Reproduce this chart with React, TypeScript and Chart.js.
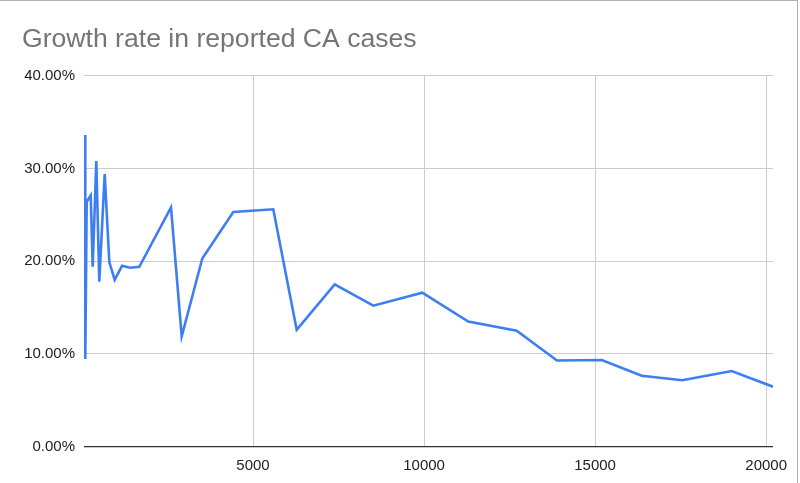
import React, { useEffect, useRef } from "react";
import { Chart, registerables } from "chart.js";

Chart.register(...registerables);

const TITLE = "Growth rate in reported CA cases";
const reportedCases = [
  95, 98, 139, 256, 314, 420, 507, 665, 800, 957, 1171, 1405, 1676, 2603, 2916,
  3518, 4424, 5593, 6277, 7388, 8516, 9948, 11293, 12708, 13886, 15193, 16362,
  17549, 18993, 20200,
];
const growthRate = [
  33.6, 9.46, 26.4, 27.1, 19.4, 30.8, 17.8, 29.4, 19.9, 18.0, 19.5, 19.3, 19.4,
  25.8, 11.9, 20.3, 25.3, 25.6, 12.6, 17.5, 15.2, 16.6, 13.5, 12.5, 9.3, 9.35,
  7.65, 7.16, 8.16, 6.47,
];
const xTickValues = [5000, 10000, 15000, 20000];
const yTickValues = [0, 10, 20, 30, 40];
const X_MIN = 60;
const X_MAX = 20200;

const FONT = "'Liberation Sans', Arial, Helvetica, sans-serif";

export default function App() {
  const ref = useRef<HTMLCanvasElement | null>(null);

  useEffect(() => {
    if (!ref.current) return;
    const points = reportedCases.map((x, i) => ({ x, y: growthRate[i] }));
    const chart = new Chart(ref.current, {
      type: "line",
      data: {
        datasets: [
          {
            data: points,
            borderColor: "#3d7ff2",
            borderWidth: 2.6,
            pointRadius: 0,
            tension: 0,
            fill: false,
          },
        ],
      },
      options: {
        animation: false,
        responsive: false,
        devicePixelRatio: 1,
        layout: { padding: { left: 22, right: 27, top: 0, bottom: 0 } },
        plugins: {
          legend: { display: false },
          tooltip: { enabled: false },
          title: {
            display: true,
            text: TITLE,
            align: "start",
            color: "#757575",
            font: { family: FONT, size: 26.6, weight: "normal" },
            padding: { top: 24, bottom: 19.8 },
          },
        },
        scales: {
          x: {
            type: "linear",
            min: X_MIN,
            max: X_MAX,
            afterBuildTicks: (axis: any) => {
              axis.ticks = xTickValues.map((v) => ({ value: v }));
            },
            afterFit: (s: any) => {
              s.height = 36.3;
            },
            ticks: {
              autoSkip: false,
              maxRotation: 0,
              color: "#222",
              font: { family: FONT, size: 15 },
              padding: 10,
              callback: (v: any) => String(v),
            },
            grid: { color: "#cccccc", drawTicks: false, lineWidth: 1 },
            border: { display: false },
          },
          y: {
            min: yTickValues[0],
            max: yTickValues[yTickValues.length - 1],
            afterBuildTicks: (axis: any) => {
              axis.ticks = yTickValues.map((v) => ({ value: v }));
            },
            afterFit: (s: any) => {
              s.width = 62;
            },
            ticks: {
              color: "#222",
              font: { family: FONT, size: 15 },
              padding: 9,
              callback: (v: any) => Number(v).toFixed(2) + "%",
            },
            grid: {
              drawTicks: false,
              lineWidth: (ctx: any) => (ctx.tick && ctx.tick.value === 0 ? 1.3 : 1),
              color: (ctx: any) =>
                ctx.tick && ctx.tick.value === 0 ? "#333333" : "#cccccc",
            },
            border: { display: false },
          },
        },
      },
    });
    return () => chart.destroy();
  }, []);

  return (
    <div
      style={{
        position: "absolute",
        left: 0,
        top: 0,
        width: 800,
        height: 483,
        background: "#fff",
        overflow: "hidden",
      }}
    >
      <canvas ref={ref} width={800} height={483} style={{ display: "block" }} />
      <div
        style={{
          position: "absolute",
          left: 0,
          top: 0,
          width: 798,
          height: 1,
          background: "#b3b3b3",
        }}
      />
      <div
        style={{
          position: "absolute",
          left: 796.5,
          top: 0,
          width: 1.5,
          height: 483,
          background: "#b3b3b3",
        }}
      />
    </div>
  );
}
